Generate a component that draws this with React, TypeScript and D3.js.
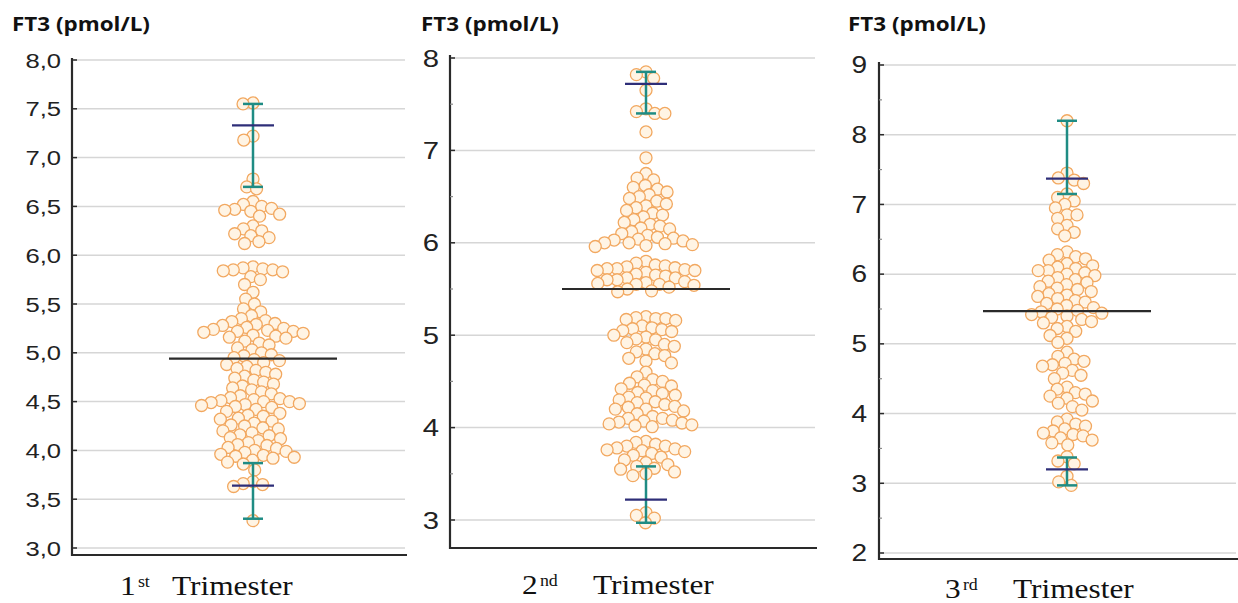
import React from "react";
import * as d3 from "d3";

// Axis / label text
const axisTitle = "FT3 (pmol/L)";
const trimesterNumbers = ["1", "2", "3"];
const trimesterSuffixes = ["st", "nd", "rd"];
const trimesterWord = "Trimester";

// Tick values and their printed labels per panel
const ticksFirst = [3.0, 3.5, 4.0, 4.5, 5.0, 5.5, 6.0, 6.5, 7.0, 7.5, 8.0];
const tickLabelsFirst = ["3,0", "3,5", "4,0", "4,5", "5,0", "5,5", "6,0", "6,5", "7,0", "7,5", "8,0"];
const ticksSecond = [3, 4, 5, 6, 7, 8];
const tickLabelsSecond = ["3", "4", "5", "6", "7", "8"];
const ticksThird = [2, 3, 4, 5, 6, 7, 8, 9];
const tickLabelsThird = ["2", "3", "4", "5", "6", "7", "8", "9"];

// Individual FT3 measurements (pmol/L)
const ft3First = [
  7.56, 7.55, 7.22, 7.18, 6.78, 6.70, 6.68,
  6.55, 6.52, 6.50, 6.48, 6.47, 6.46, 6.45, 6.42, 6.40,
  6.30, 6.27, 6.25, 6.22, 6.20, 6.18, 6.14, 6.12,
  5.88, 5.87, 5.86, 5.85, 5.85, 5.84, 5.83, 5.78, 5.75, 5.70,
  5.62, 5.55, 5.50,
  5.45, 5.42, 5.38, 5.35, 5.33, 5.32, 5.30, 5.29, 5.28, 5.26, 5.25, 5.24, 5.23, 5.22, 5.22, 5.21, 5.20,
  5.18, 5.17, 5.16, 5.15, 5.12, 5.10, 5.08, 5.05, 5.03, 5.00, 4.98, 4.97, 4.95, 4.93, 4.92,
  4.90, 4.88, 4.86, 4.84, 4.82, 4.80, 4.78, 4.76, 4.74, 4.72, 4.70, 4.68, 4.66, 4.64, 4.62, 4.60,
  4.58, 4.56, 4.54, 4.53, 4.52, 4.51, 4.50, 4.50, 4.49, 4.48, 4.47, 4.46, 4.45, 4.44, 4.42, 4.40,
  4.38, 4.36, 4.35, 4.33, 4.32, 4.30, 4.28, 4.26, 4.25, 4.23, 4.22, 4.20, 4.18, 4.16, 4.15, 4.13,
  4.12, 4.10, 4.08, 4.06, 4.05, 4.03, 4.02, 4.00, 3.99, 3.98, 3.96, 3.95, 3.94, 3.93, 3.92, 3.90,
  3.88, 3.86, 3.80, 3.68, 3.66, 3.65, 3.63, 3.28,
];

const ft3Second = [
  7.85, 7.82, 7.78, 7.65, 7.45, 7.42, 7.40, 7.40, 7.20, 6.92,
  6.75, 6.70, 6.68, 6.62, 6.60, 6.58, 6.55, 6.52, 6.50, 6.48, 6.45, 6.42, 6.40, 6.38, 6.35, 6.32,
  6.30, 6.28, 6.25, 6.22, 6.20, 6.18, 6.16, 6.15, 6.12, 6.10, 6.08, 6.06, 6.05, 6.04, 6.03, 6.02,
  6.00, 6.00, 5.99, 5.98, 5.97, 5.96,
  5.80, 5.78, 5.76, 5.75, 5.74, 5.73, 5.72, 5.72, 5.71, 5.70, 5.70, 5.68, 5.66, 5.65, 5.64, 5.62,
  5.62, 5.60, 5.60, 5.58, 5.57, 5.56, 5.55, 5.55, 5.54, 5.52, 5.50, 5.48, 5.47,
  5.20, 5.19, 5.18, 5.18, 5.17, 5.16, 5.10, 5.08, 5.07, 5.06, 5.05, 5.04, 5.00, 4.98, 4.96, 4.95,
  4.92, 4.90, 4.88, 4.85, 4.82, 4.80, 4.78, 4.75, 4.72, 4.70,
  4.60, 4.55, 4.52, 4.50, 4.48, 4.46, 4.45, 4.42, 4.40, 4.38, 4.37, 4.35, 4.33, 4.32, 4.30, 4.28,
  4.27, 4.25, 4.23, 4.22, 4.20, 4.20, 4.18, 4.15, 4.12, 4.10, 4.10, 4.08, 4.07, 4.06, 4.05, 4.04,
  4.03, 4.02, 4.01,
  3.85, 3.84, 3.82, 3.80, 3.80, 3.78, 3.77, 3.76, 3.75, 3.74, 3.72, 3.70, 3.68, 3.65, 3.62, 3.60,
  3.58, 3.56, 3.55, 3.52, 3.50, 3.48,
  3.08, 3.05, 3.02, 2.97,
];

const ft3Third = [
  8.20, 7.45, 7.38, 7.35, 7.30, 7.15, 7.10, 7.05, 7.00, 6.95, 6.85, 6.85, 6.80, 6.70, 6.65, 6.60, 6.55,
  6.32, 6.28, 6.25, 6.22, 6.20, 6.15, 6.12, 6.10, 6.08, 6.05, 6.05, 6.02, 6.00, 5.98, 5.95, 5.92,
  5.90, 5.88, 5.85, 5.82, 5.80, 5.78, 5.75, 5.72, 5.70, 5.68, 5.65, 5.62, 5.60, 5.58, 5.55, 5.52,
  5.50, 5.48, 5.46, 5.44, 5.42, 5.40, 5.38, 5.35, 5.32, 5.30, 5.25, 5.22, 5.18, 5.12, 5.08, 5.02,
  4.88, 4.82, 4.78, 4.75, 4.72, 4.70, 4.68, 4.62, 4.58, 4.55, 4.50,
  4.38, 4.35, 4.30, 4.28, 4.25, 4.22, 4.18, 4.15, 4.10, 4.05,
  3.92, 3.88, 3.85, 3.82, 3.78, 3.75, 3.72, 3.70, 3.68, 3.65, 3.62, 3.58, 3.55,
  3.38, 3.32, 3.28, 3.10, 3.02, 2.97,
];

// Summary statistics per trimester
const meanValues = [4.94, 5.5, 5.47];
const lowerLimits = [3.64, 3.22, 3.2];
const lowerLimitCILow = [3.3, 2.97, 2.97];
const lowerLimitCIHigh = [3.87, 3.58, 3.37];
const upperLimits = [7.33, 7.72, 7.37];
const upperLimitCILow = [6.7, 7.4, 7.15];
const upperLimitCIHigh = [7.55, 7.85, 8.2];

type Panel = {
  values: number[];
  ticks: number[];
  tickLabels: string[];
  domain: [number, number];
  range: [number, number];
  axisX: number;
  axisTop: number;
  axisBottom: number;
  right: number;
  centerX: number;
  labelRight: number;
  labelSize: number;
  minorTicks: boolean;
  titleX: number;
  xLabelX: number;
  xWordX: number;
  xLabelY: number;
};

const panels: Panel[] = [
  {
    values: ft3First, ticks: ticksFirst, tickLabels: tickLabelsFirst,
    domain: [3, 8], range: [548, 60], axisX: 72, axisTop: 58, axisBottom: 555, right: 407,
    centerX: 253, labelRight: 61, labelSize: 21, minorTicks: false,
    titleX: 12, xLabelX: 120, xWordX: 172, xLabelY: 595,
  },
  {
    values: ft3Second, ticks: ticksSecond, tickLabels: tickLabelsSecond,
    domain: [3, 8], range: [520, 58], axisX: 450, axisTop: 55, axisBottom: 548, right: 817,
    centerX: 646, labelRight: 439, labelSize: 24, minorTicks: true,
    titleX: 421, xLabelX: 522, xWordX: 593, xLabelY: 594,
  },
  {
    values: ft3Third, ticks: ticksThird, tickLabels: tickLabelsThird,
    domain: [2, 9], range: [553, 65], axisX: 879, axisTop: 62, axisBottom: 559, right: 1238,
    centerX: 1067, labelRight: 867, labelSize: 23, minorTicks: true,
    titleX: 848, xLabelX: 945, xWordX: 1013, xLabelY: 598,
  },
];

// Place circles side by side so they don't collide (simple beeswarm)
function beeswarm(values: number[], y: (v: number) => number, d: number) {
  const pts = values.map((v) => ({ v, y: y(v), x: 0 })).sort((a, b) => a.y - b.y);
  const placed: { x: number; y: number }[] = [];
  for (const p of pts) {
    const near = placed.filter((q) => Math.abs(q.y - p.y) < d);
    const cands = [0];
    for (const q of near) {
      const dx = Math.sqrt(d * d - (q.y - p.y) ** 2);
      cands.push(q.x - dx, q.x + dx);
    }
    cands.sort((a, b) => Math.abs(a) - Math.abs(b));
    const ok = cands.find((c) =>
      near.every((q) => (q.x - c) ** 2 + (q.y - p.y) ** 2 >= d * d - 1e-6)
    );
    p.x = ok ?? 0;
    placed.push(p);
  }
  return pts;
}

const GRID = "#d6d6d6";
const AXIS = "#2a2a2a";
const TEAL = "#1f8c84";
const NAVY = "#2e2e78";

function PanelView({ p, i }: { p: Panel; i: number }) {
  const y = d3.scaleLinear().domain(p.domain).range(p.range);
  const pts = beeswarm(p.values, y, 10);
  const minor = p.minorTicks
    ? d3.range(p.domain[0] - 0.5, p.domain[1] + 0.5, 1).filter((v) => y(v) < p.axisBottom - 2)
    : [];
  const cx = p.centerX;
  return (
    <g>
      {/* horizontal gridlines */}
      {p.ticks.map((t) => (
        <line key={"g" + t} x1={p.axisX + 2} x2={p.right - 2} y1={y(t)} y2={y(t)} stroke={GRID} strokeWidth={1.5} />
      ))}
      {/* observations */}
      {pts.map((d, k) => (
        <circle key={k} cx={cx + d.x} cy={d.y} r={6} fill="#fff4e4" stroke="#f2a860" strokeWidth={1.3} />
      ))}
      {/* mean */}
      <line x1={cx - 84} x2={cx + 84} y1={y(meanValues[i])} y2={y(meanValues[i])} stroke={AXIS} strokeWidth={2.2} />
      {/* reference limits with confidence intervals */}
      {[
        [lowerLimits[i], lowerLimitCILow[i], lowerLimitCIHigh[i]],
        [upperLimits[i], upperLimitCILow[i], upperLimitCIHigh[i]],
      ].map(([lim, lo, hi], k) => (
        <g key={"e" + k}>
          <line x1={cx} x2={cx} y1={y(lo)} y2={y(hi)} stroke={TEAL} strokeWidth={2.5} />
          <line x1={cx - 10} x2={cx + 10} y1={y(lo)} y2={y(lo)} stroke={TEAL} strokeWidth={2.5} />
          <line x1={cx - 10} x2={cx + 10} y1={y(hi)} y2={y(hi)} stroke={TEAL} strokeWidth={2.5} />
          <line x1={cx - 21} x2={cx + 21} y1={y(lim)} y2={y(lim)} stroke={NAVY} strokeWidth={2.2} />
        </g>
      ))}
      {/* axes */}
      <line x1={p.axisX} x2={p.axisX} y1={p.axisTop} y2={p.axisBottom + 1} stroke={AXIS} strokeWidth={2.2} />
      <line x1={p.axisX - 1} x2={p.right} y1={p.axisBottom} y2={p.axisBottom} stroke={AXIS} strokeWidth={2.2} />
      {p.ticks.map((t) => (
        <line key={"t" + t} x1={p.axisX} x2={p.axisX + 5} y1={y(t)} y2={y(t)} stroke={AXIS} strokeWidth={1.5} />
      ))}
      {minor.map((t) => (
        <line key={"m" + t} x1={p.axisX} x2={p.axisX + 3} y1={y(t)} y2={y(t)} stroke="#888" strokeWidth={1.2} />
      ))}
      {p.ticks.map((t, k) => (
        <text
          key={"l" + t}
          transform={`translate(${p.labelRight},${y(t) + p.labelSize * 0.36}) scale(1.22,1)`}
          textAnchor="end"
          fontFamily="'Liberation Sans', Arial, sans-serif"
          fontSize={p.labelSize}
          fill="#222"
        >
          {p.tickLabels[k]}
        </text>
      ))}
      {/* titles */}
      <text
        transform={`translate(${p.titleX},31) scale(1.18,1)`}
        fontFamily="'Open Sans', sans-serif"
        fontWeight={700}
        fontSize={19}
        fill="#111"
      >
        {axisTitle}
      </text>
      <text
        transform={`translate(${p.xLabelX},${p.xLabelY}) scale(1.12,1)`}
        fontFamily="'Liberation Serif', 'Times New Roman', serif"
        fontSize={28}
        fill="#111"
      >
        {trimesterNumbers[i]}
        <tspan fontSize={16} dy={-8} dx={2}>{trimesterSuffixes[i]}</tspan>
      </text>
      <text
        transform={`translate(${p.xWordX},${p.xLabelY}) scale(1.12,1)`}
        fontFamily="'Liberation Serif', 'Times New Roman', serif"
        fontSize={28}
        fill="#111"
      >
        {trimesterWord}
      </text>
    </g>
  );
}

export default function App() {
  return (
    <svg width={1238} height={603} style={{ position: "absolute", left: 0, top: 0, background: "#fff" }}>
      <rect width={1238} height={603} fill="#fff" />
      {panels.map((p, i) => (
        <PanelView key={i} p={p} i={i} />
      ))}
    </svg>
  );
}
